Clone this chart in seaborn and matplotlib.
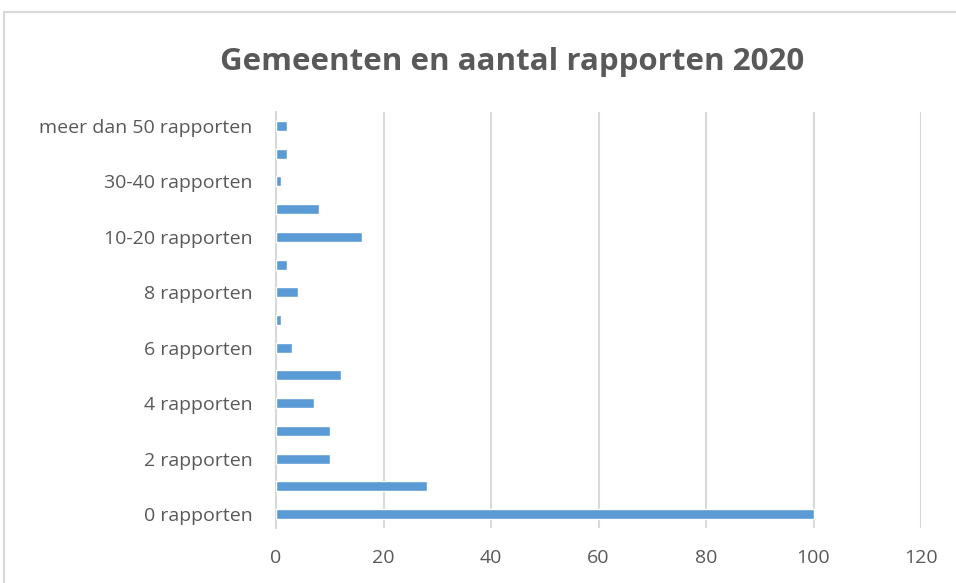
import matplotlib
matplotlib.use("Agg")
import matplotlib.pyplot as plt
import seaborn as sns
import pandas as pd
from matplotlib.patches import Rectangle

categories = ["0 rapporten", "1 rapport", "2 rapporten", "3 rapporten", "4 rapporten",
              "5 rapporten", "6 rapporten", "7 rapporten", "8 rapporten", "9 rapporten",
              "10-20 rapporten", "20-30 rapporten", "30-40 rapporten", "40-50 rapporten",
              "meer dan 50 rapporten"]
values = [100, 28, 10, 10, 7, 12, 3, 1, 4, 2, 16, 8, 1, 2, 2]
x_ticks = [0, 20, 40, 60, 80, 100, 120]
title = "Gemeenten en aantal rapporten 2020"

df = pd.DataFrame({"categorie": categories, "aantal": values})

sns.set_style("white")
plt.rcParams["font.family"] = ["Open Sans", "DejaVu Sans"]

W, H = 956, 583
fig = plt.figure(figsize=(W / 100, H / 100), dpi=100)
ax = fig.add_axes([276 / W, 1 - 528 / H, 645 / W, 416 / H])

order = categories[::-1]
sns.barplot(data=df, y="categorie", x="aantal", order=order, orient="h",
            color="#5b9bd5", saturation=1, width=0.36, ax=ax, zorder=3)

ax.set_xlim(0, 120)
ax.set_xticks(x_ticks)
ax.set_xticklabels([str(t) for t in x_ticks])
ax.xaxis.grid(True, color="#d9d9d9", linewidth=1.5, zorder=0)
ax.yaxis.grid(False)
for s in ["top", "right", "bottom"]:
    ax.spines[s].set_visible(False)
ax.spines["left"].set_color("#d9d9d9")
ax.spines["left"].set_linewidth(1.5)
ax.set_xlabel("")
ax.set_ylabel("")

labels = [c if (len(order) - 1 - i) % 2 == 0 else "" for i, c in enumerate(order)]
ax.set_yticks(range(len(order)))
ax.set_yticklabels(labels)
ax.tick_params(axis="both", length=0, labelsize=14, labelcolor="#595959")
ax.tick_params(axis="y", pad=17)
ax.tick_params(axis="x", pad=15)

fig.text(512 / W, 1 - 62 / H, title, ha="center", va="center", fontsize=22.5,
         fontweight="bold", color="#595959")

fig.patches.append(Rectangle((4 / W, -0.1), 1.2, 1 - 12 / H + 0.1, transform=fig.transFigure,
                             fill=False, edgecolor="#d9d9d9", linewidth=1.5))

fig.savefig("out.png", dpi=100)
